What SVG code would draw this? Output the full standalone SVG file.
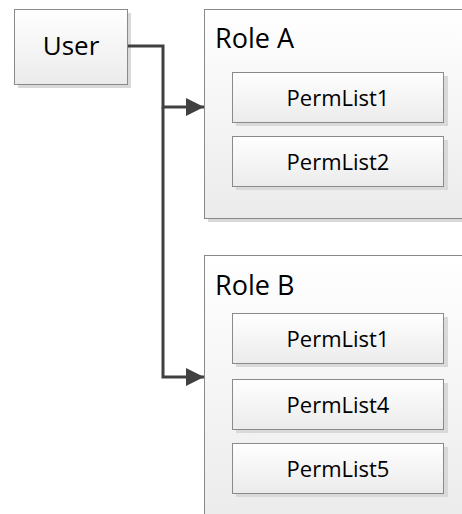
<svg xmlns="http://www.w3.org/2000/svg" width="462" height="514" viewBox="0 0 462 514">
<defs>
<linearGradient id="g" x1="0" y1="0" x2="0" y2="1">
<stop offset="0" stop-color="#ffffff"/>
<stop offset="1" stop-color="#ebebeb"/>
</linearGradient>
<marker id="ah" markerWidth="18" markerHeight="18" viewBox="0 0 18 18" refX="18" refY="9" orient="auto" markerUnits="userSpaceOnUse">
<path d="M0,0 L18,9 L0,18 Z" fill="#404040"/>
</marker>
</defs>
<style>
.box{fill:url(#g);stroke:#8a8a8a;stroke-width:1}
.sh{fill:#d9d9d9}
.t{font-family:"Open Sans","DejaVu Sans",sans-serif;fill:#000}
.big{font-size:26px}
.small{font-size:22px}
.c{fill:none;stroke:#404040;stroke-width:3}
</style>
<rect width="462" height="514" fill="#ffffff"/>
<g id="user">
<rect class="sh" x="18" y="13" width="113" height="75"/>
<rect class="box" x="14.5" y="9.5" width="113" height="75"/>
<text class="t big" x="71" y="55" text-anchor="middle">User</text>
</g>
<g id="roleA">
<rect class="sh" x="208" y="13" width="260" height="209"/>
<rect class="box" x="204.5" y="9.5" width="262" height="209"/>
<text class="t big" x="215" y="48" style="font-size:27px">Role A</text>
<g id="roleA-perm1">
<rect class="sh" x="236" y="76" width="212" height="50"/>
<rect class="box" x="232.5" y="72.5" width="211" height="50"/>
<text class="t small" x="338" y="106" text-anchor="middle">PermList1</text>
</g>
<g id="roleA-perm2">
<rect class="sh" x="236" y="140" width="212" height="50"/>
<rect class="box" x="232.5" y="136.5" width="211" height="50"/>
<text class="t small" x="338" y="170" text-anchor="middle">PermList2</text>
</g>
</g>
<g id="roleB">
<rect class="box" x="204.5" y="255.5" width="262" height="270"/>
<text class="t big" x="215" y="295" style="font-size:27px">Role B</text>
<g id="roleB-perm1">
<rect class="sh" x="236" y="317" width="212" height="50"/>
<rect class="box" x="232.5" y="313.5" width="211" height="50"/>
<text class="t small" x="338" y="347" text-anchor="middle">PermList1</text>
</g>
<g id="roleB-perm4">
<rect class="sh" x="236" y="383" width="212" height="50"/>
<rect class="box" x="232.5" y="379.5" width="211" height="50"/>
<text class="t small" x="338" y="413" text-anchor="middle">PermList4</text>
</g>
<g id="roleB-perm5">
<rect class="sh" x="236" y="447" width="212" height="50"/>
<rect class="box" x="232.5" y="443.5" width="211" height="50"/>
<text class="t small" x="338" y="477" text-anchor="middle">PermList5</text>
</g>
</g>
<g id="connectors">
<path class="c" d="M128,46 H163 V107 H204" marker-end="url(#ah)"/>
<path class="c" d="M163,107 V377 H204" marker-end="url(#ah)"/>
</g>
</svg>
